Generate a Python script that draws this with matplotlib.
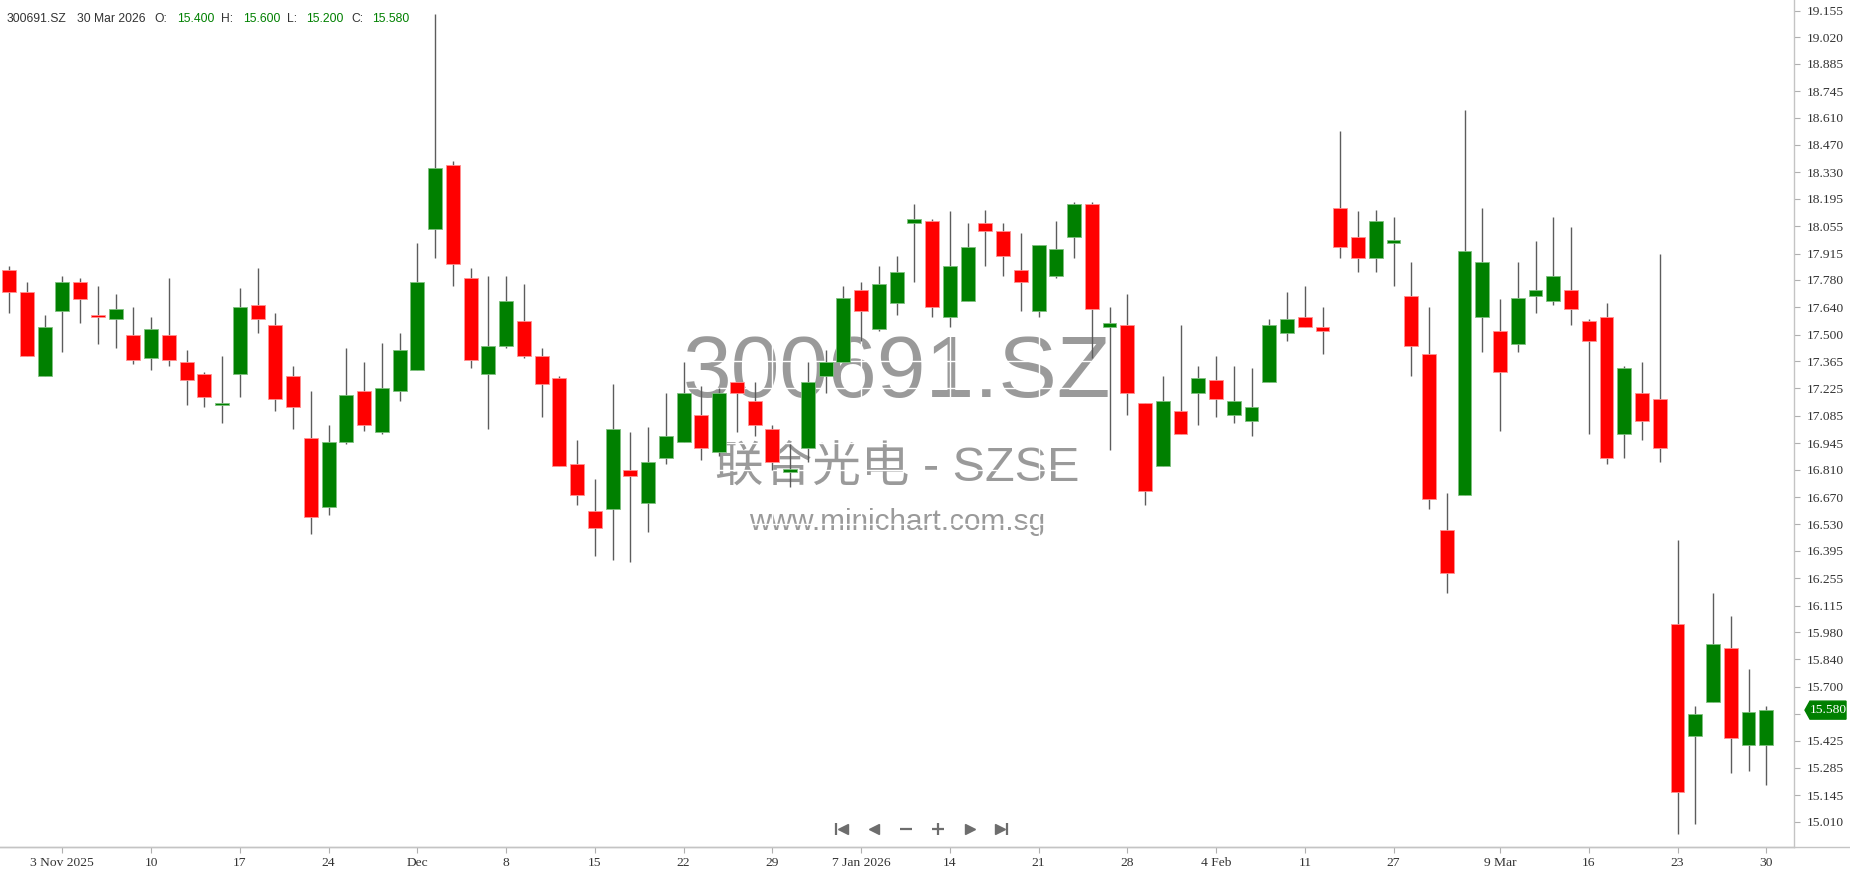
import matplotlib
matplotlib.use("Agg")
import matplotlib.pyplot as plt
from matplotlib.patches import Polygon
import numpy as np
import pandas as pd

# trading days (SZSE), holidays removed
holidays = pd.to_datetime(['2026-01-01', '2026-01-02', '2026-02-16', '2026-02-17', '2026-02-18',
                           '2026-02-19', '2026-02-20', '2026-02-23', '2026-02-24'])
dates = pd.bdate_range('2025-10-29', '2026-03-30')
dates = dates[~dates.isin(holidays)]

opens = [17.83, 17.72, 17.29, 17.62, 17.77, 17.60, 17.58, 17.50, 17.38, 17.50,
         17.36, 17.30, 17.14, 17.30, 17.65, 17.55, 17.29, 16.97, 16.62, 16.95,
         17.21, 17.00, 17.21, 17.32, 18.04, 18.37, 17.79, 17.30, 17.44, 17.57,
         17.39, 17.28, 16.84, 16.60, 16.61, 16.81, 16.64, 16.87, 16.95, 17.09,
         16.90, 17.26, 17.16, 17.02, 16.80, 16.92, 17.29, 17.36, 17.73, 17.53,
         17.66, 18.07, 18.08, 17.59, 17.67, 18.07, 18.03, 17.83, 17.62, 17.80,
         18.00, 18.17, 17.54, 17.55, 17.15, 16.83, 17.11, 17.20, 17.27, 17.09,
         17.06, 17.26, 17.51, 17.59, 17.54, 18.15, 18.00, 17.89, 17.97, 17.70,
         17.40, 16.50, 16.68, 17.59, 17.52, 17.45, 17.70, 17.67, 17.73, 17.57,
         17.59, 16.99, 17.20, 17.17, 16.02, 15.45, 15.62, 15.90, 15.40, 15.40]
highs = [17.85, 17.77, 17.60, 17.80, 17.79, 17.75, 17.71, 17.64, 17.59, 17.79,
         17.42, 17.31, 17.39, 17.74, 17.84, 17.61, 17.34, 17.21, 17.04, 17.43,
         17.36, 17.46, 17.51, 17.97, 19.14, 18.39, 17.84, 17.80, 17.80, 17.76,
         17.43, 17.29, 16.96, 16.76, 17.25, 17.00, 17.03, 17.20, 17.36, 17.24,
         17.23, 17.26, 17.26, 17.04, 16.94, 17.36, 17.42, 17.75, 17.77, 17.85,
         17.90, 18.17, 18.09, 18.13, 18.07, 18.14, 18.07, 18.02, 17.96, 18.08,
         18.18, 18.18, 17.64, 17.71, 17.15, 17.29, 17.55, 17.34, 17.39, 17.34,
         17.33, 17.58, 17.72, 17.75, 17.64, 18.54, 18.13, 18.14, 18.10, 17.87,
         17.64, 16.69, 18.65, 18.15, 17.68, 17.87, 17.98, 18.10, 18.05, 17.58,
         17.66, 17.34, 17.36, 17.91, 16.45, 15.60, 16.18, 16.06, 15.79, 15.60]
lows = [17.61, 17.39, 17.29, 17.41, 17.56, 17.45, 17.43, 17.35, 17.32, 17.34,
        17.14, 17.13, 17.05, 17.18, 17.51, 17.11, 17.02, 16.48, 16.58, 16.94,
        17.01, 16.99, 17.16, 17.32, 17.89, 17.75, 17.33, 17.02, 17.43, 17.38,
        17.08, 16.83, 16.63, 16.37, 16.35, 16.34, 16.49, 16.84, 16.95, 16.86,
        16.88, 17.00, 16.98, 16.81, 16.72, 16.85, 17.20, 17.36, 17.47, 17.52,
        17.60, 17.77, 17.59, 17.54, 17.67, 17.85, 17.80, 17.62, 17.59, 17.79,
        17.89, 17.38, 16.91, 17.09, 16.63, 16.83, 16.99, 17.04, 17.08, 17.05,
        16.98, 17.26, 17.47, 17.54, 17.40, 17.89, 17.82, 17.82, 17.75, 17.29,
        16.61, 16.18, 16.68, 17.41, 17.01, 17.41, 17.61, 17.65, 17.55, 16.99,
        16.84, 16.87, 16.96, 16.85, 14.95, 15.00, 15.62, 15.26, 15.27, 15.20]
closes = [17.72, 17.39, 17.54, 17.77, 17.68, 17.59, 17.63, 17.37, 17.53, 17.37,
          17.27, 17.18, 17.15, 17.64, 17.58, 17.17, 17.13, 16.57, 16.95, 17.19,
          17.04, 17.23, 17.42, 17.77, 18.35, 17.86, 17.37, 17.44, 17.67, 17.39,
          17.25, 16.83, 16.68, 16.51, 17.02, 16.78, 16.85, 16.98, 17.20, 16.92,
          17.20, 17.20, 17.04, 16.85, 16.81, 17.26, 17.36, 17.69, 17.62, 17.76,
          17.82, 18.09, 17.64, 17.85, 17.95, 18.03, 17.90, 17.77, 17.96, 17.94,
          18.17, 17.63, 17.56, 17.20, 16.70, 17.16, 16.99, 17.28, 17.17, 17.16,
          17.13, 17.55, 17.58, 17.54, 17.52, 17.95, 17.89, 18.08, 17.98, 17.44,
          16.66, 16.28, 17.93, 17.87, 17.31, 17.69, 17.73, 17.80, 17.63, 17.47,
          16.87, 17.33, 17.06, 16.92, 15.16, 15.56, 15.92, 15.44, 15.57, 15.58]

tick_dates = ['2025-11-03', '2025-11-10', '2025-11-17', '2025-11-24', '2025-12-01',
              '2025-12-08', '2025-12-15', '2025-12-22', '2025-12-29', '2026-01-07',
              '2026-01-14', '2026-01-21', '2026-01-28', '2026-02-04', '2026-02-11',
              '2026-02-27', '2026-03-09', '2026-03-16', '2026-03-23', '2026-03-30']
tick_labels = ['3 Nov 2025', '10', '17', '24', 'Dec', '8', '15', '22', '29', '7 Jan 2026',
               '14', '21', '28', '4 Feb', '11', '27', '9 Mar', '16', '23', '30']
price_ticks = [15.010, 15.145, 15.285, 15.425, 15.560, 15.700, 15.840, 15.980,
               16.115, 16.255, 16.395, 16.530, 16.670, 16.810, 16.945, 17.085,
               17.225, 17.365, 17.500, 17.640, 17.780, 17.915, 18.055, 18.195,
               18.330, 18.470, 18.610, 18.745, 18.885, 19.020, 19.155]

ticker = '300691.SZ'
name_line = '联合光电 - SZSE'
site = 'www.minichart.com.sg'

W, H = 1850, 874
fig = plt.figure(figsize=(W / 100, H / 100), dpi=100, facecolor='white')


def pixel_axes(z):
    a = fig.add_axes([0, 0, 1, 1], zorder=z)
    a.set_xlim(0, W)
    a.set_ylim(H, 0)
    a.axis('off')
    return a


back = pixel_axes(0)
ax = fig.add_axes([0, 27 / H, 1794 / W, 847 / H], zorder=1)
ax.patch.set_alpha(0)
front = pixel_axes(2)

# watermark
wm_font = ['Liberation Sans', 'Noto Sans CJK SC']
back.text(897, 397, ticker, ha='center', va='baseline', fontsize=63, color='#9a9a9a', family=wm_font)
back.text(897, 481, name_line, ha='center', va='baseline', fontsize=35, color='#9a9a9a', family=wm_font)
back.text(897, 530, site, ha='center', va='baseline', fontsize=21.4, color='#9a9a9a', family=wm_font)

# candles
idx = np.arange(len(dates))
o = np.array(opens)
c = np.array(closes)
up = c >= o
body_lo = np.minimum(o, c)
body_h = np.maximum(np.abs(c - o), 0.012)
ax.vlines(idx, lows, highs, color='#5c5c5c', lw=1.0, zorder=2)
ax.bar(idx, body_h, bottom=body_lo, width=0.78,
       color=np.where(up, '#008000', '#ff0000'),
       edgecolor=np.where(up, '#80c080', '#ff9090'), lw=0.6, zorder=3)

ax.set_xlim(-0.513, 100.56)
ax.set_ylim(14.881, 19.211)

last = closes[-1]

ax.set_xticks([dates.get_loc(pd.Timestamp(d)) for d in tick_dates])
ax.set_xticklabels(tick_labels, family='Liberation Serif', fontsize=9.7, color='#333333')
ax.yaxis.tick_right()
ax.set_yticks(price_ticks)
# the label next to the last price is hidden under the price tag
ax.set_yticklabels(['' if abs(v - last) < 0.05 else f'{v:.3f}' for v in price_ticks],
                   family='Liberation Serif', fontsize=9.7, color='#333333')
ax.tick_params(axis='x', length=4, width=0.8, color='#b0b0b0', pad=3)
ax.tick_params(axis='y', length=4, width=0.8, color='#b0b0b0', pad=5)
ax.grid(True, color='white', lw=1.0)
ax.set_axisbelow(True)
for s in ['top', 'left']:
    ax.spines[s].set_visible(False)
for s in ['right', 'bottom']:
    ax.spines[s].set_color('#c4c4c4')
    ax.spines[s].set_linewidth(1.0)
front.plot([0, W], [847, 847], color='#c4c4c4', lw=1.0)

# header
hdr_font = 'Liberation Sans'
parts = [(7, ticker, '#333333'), (77, '30 Mar 2026', '#333333'), (154, 'O:', '#333333'),
         (177, '15.400', '#008000'), (221, 'H:', '#333333'), (243, '15.600', '#008000'),
         (287, 'L:', '#333333'), (306, '15.200', '#008000'), (351, 'C:', '#333333'),
         (372, '15.580', '#008000')]
for x, t, col in parts:
    front.text(x, 22.5, t, ha='left', va='baseline', fontsize=8.7, color=col, family=hdr_font)

# last price tag
ty = 11 + (19.155 - last) * 195.56
front.add_patch(Polygon([[1805, ty], [1810, ty - 9], [1846, ty - 9], [1846, ty + 9], [1810, ty + 9]],
                        closed=True, color='#008000', zorder=5))
front.text(1828, ty, f'{last:.3f}', ha='center', va='center', fontsize=9.7, color='white',
           family='Liberation Serif', zorder=6)

# navigation buttons
nav = '#6d6d6d'
ny = 829
front.plot([836], [ny], marker='|', ms=8, mew=1.6, color=nav)
front.plot([843], [ny], marker='<', ms=7, color=nav)
front.plot([874], [ny], marker='<', ms=7, color=nav)
front.plot([906], [ny], marker='_', ms=8, mew=1.6, color=nav)
front.plot([938], [ny], marker='+', ms=8, mew=1.6, color=nav)
front.plot([970], [ny], marker='>', ms=7, color=nav)
front.plot([1000], [ny], marker='>', ms=7, color=nav)
front.plot([1007], [ny], marker='|', ms=8, mew=1.6, color=nav)

fig.savefig('out.png', dpi=100, facecolor='white')
